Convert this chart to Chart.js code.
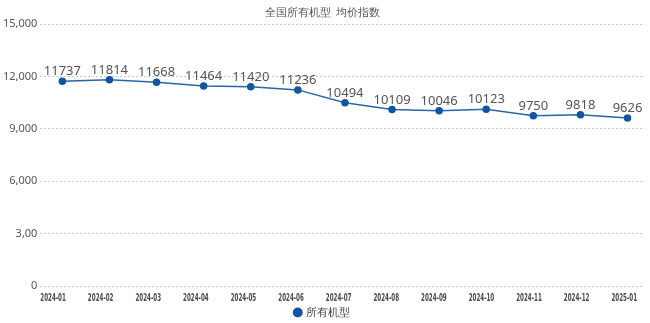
<!DOCTYPE html>
<html>
<head>
<meta charset="utf-8">
<script src="https://cdn.jsdelivr.net/npm/chart.js@4/dist/chart.umd.min.js"></script>
<style>
    html, body { margin: 0; padding: 0; background: #fff; }
    #wrap { width: 650px; height: 323px; }
</style>
</head>
<body>
<div id="wrap"><canvas id="priceChart"></canvas></div>
<script>
// Months and the national average price index
const months = ['2024-01', '2024-02', '2024-03', '2024-04', '2024-05', '2024-06', '2024-07',
    '2024-08', '2024-09', '2024-10', '2024-11', '2024-12', '2025-01'];
const priceIndex = [11737, 11814, 11668, 11464, 11420, 11236, 10494, 10109, 10046, 10123, 9750, 9818, 9626];
const yTicks = [0, 3000, 6000, 9000, 12000, 15000];
const yTickLabels = ['0', '3,00', '6,000', '9,000', '12,000', '15,000'];

const mainFont = "'Noto Sans', 'Open Sans', sans-serif";

// Write each value above its point
const valueLabels = {
    id: 'valueLabels',
    afterDatasetsDraw(chart) {
        const ctx = chart.ctx;
        const meta = chart.getDatasetMeta(0);
        ctx.save();
        ctx.font = '13px ' + mainFont;
        ctx.fillStyle = '#555';
        ctx.textAlign = 'center';
        ctx.textBaseline = 'alphabetic';
        meta.data.forEach((pt, i) => {
            ctx.fillText(String(priceIndex[i]), pt.x, pt.y - 6);
        });
        ctx.restore();
    }
};

// Month labels in a narrow, squeezed type, placed on their own hidden axis
const monthLabels = {
    id: 'monthLabels',
    afterDraw(chart) {
        const ctx = chart.ctx;
        const labelScale = chart.scales.xm;
        const yPos = chart.chartArea.bottom + 12;
        ctx.save();
        ctx.font = "bold 10px 'DejaVu Sans Condensed', 'DejaVu Sans', sans-serif";
        ctx.fillStyle = '#4a4a4a';
        ctx.textAlign = 'center';
        ctx.textBaseline = 'middle';
        months.forEach((m, i) => {
            const x = labelScale.getPixelForValue(i);
            ctx.save();
            ctx.translate(x, yPos);
            ctx.scale(0.62, 1);
            ctx.fillText(m, 0, 0);
            ctx.restore();
        });
        ctx.restore();
    }
};

const ctx = document.getElementById('priceChart').getContext('2d');
new Chart(ctx, {
    type: 'line',
    data: {
        datasets: [{
            label: '所有机型',
            data: priceIndex.map((v, i) => ({ x: i, y: v })),
            borderColor: '#2a65a8',
            backgroundColor: '#0d57a5',
            pointBackgroundColor: '#0d57a5',
            pointBorderColor: '#0d57a5',
            borderWidth: 1.5,
            pointRadius: 3,
            tension: 0
        }]
    },
    options: {
        responsive: true,
        maintainAspectRatio: false,
        animation: false,
        layout: { padding: { left: 0, right: 5, top: 4, bottom: 0 } },
        plugins: {
            title: {
                display: true,
                text: '全国所有机型  均价指数',
                color: '#555',
                font: { family: mainFont, size: 11, weight: 'normal' },
                padding: { top: 2, bottom: 5 }
            },
            legend: {
                position: 'bottom',
                maxHeight: 17,
                labels: {
                    usePointStyle: true,
                    pointStyle: 'circle',
                    boxWidth: 6,
                    boxHeight: 6,
                    color: '#444',
                    font: { family: mainFont, size: 11 },
                    padding: 1
                }
            },
            tooltip: { enabled: false }
        },
        scales: {
            x: {
                type: 'linear',
                min: -0.466,
                max: 12.36,
                grid: { display: false },
                border: { display: false },
                ticks: { display: false },
                afterFit(axis) {
                    axis.height = 20;
                }
            },
            xm: {
                type: 'linear',
                position: 'bottom',
                display: false,
                min: -0.266,
                max: 12.426
            },
            y: {
                min: 0,
                max: 15000,
                afterBuildTicks(axis) {
                    axis.ticks = yTicks.map(v => ({ value: v }));
                },
                grid: {
                    color: '#c8c8c8',
                    lineWidth: 1,
                    drawTicks: false
                },
                border: { display: false, dash: [2, 2] },
                ticks: {
                    padding: 3,
                    color: '#555',
                    font: { family: mainFont, size: 11 },
                    callback: (v) => yTickLabels[yTicks.indexOf(v)]
                }
            }
        }
    },
    plugins: [valueLabels, monthLabels]
});
</script>
</body>
</html>
